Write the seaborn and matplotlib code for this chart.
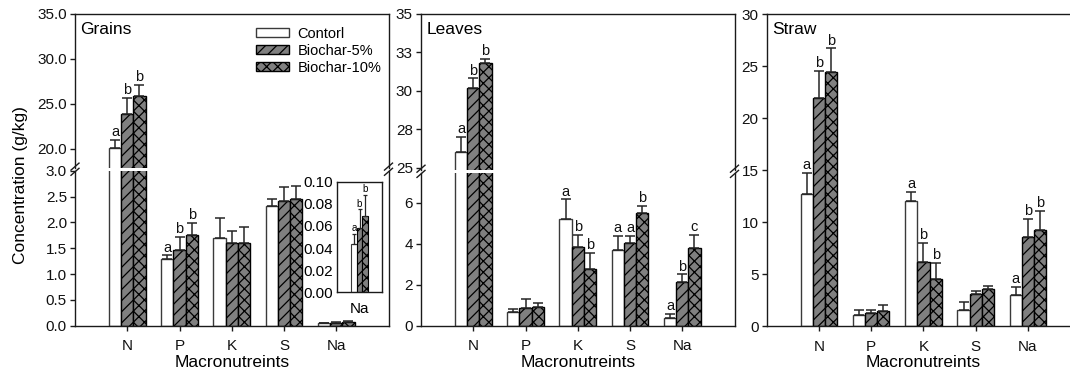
import numpy as np
import pandas as pd
import matplotlib
matplotlib.use("Agg")
import matplotlib.pyplot as plt
import matplotlib.patches as mpatches
from matplotlib.lines import Line2D
import seaborn as sns

plt.rcParams['font.family'] = ['Liberation Sans', 'DejaVu Sans']
plt.rcParams['hatch.linewidth'] = 0.9

# ---------------- data ----------------
nutrients = ['N', 'P', 'K', 'S', 'Na']
treatments = ['Contorl', 'Biochar-5%', 'Biochar-10%']

grains_ctrl = [20.1, 1.29, 1.69, 2.32, 0.044]
grains_b5 = [23.9, 1.47, 1.60, 2.42, 0.058]
grains_b10 = [25.9, 1.75, 1.60, 2.46, 0.069]
grains_ctrl_err = [0.9, 0.07, 0.39, 0.13, 0.009]
grains_b5_err = [1.8, 0.25, 0.24, 0.26, 0.017]
grains_b10_err = [1.2, 0.24, 0.31, 0.24, 0.019]
grains_ctrl_let = ['a', 'a', '', '', 'a']
grains_b5_let = ['b', 'b', '', '', 'b']
grains_b10_let = ['b', 'b', '', '', 'b']

leaves_ctrl = [26.0, 0.68, 5.19, 3.69, 0.36]
leaves_b5 = [30.2, 0.85, 3.85, 4.02, 2.12]
leaves_b10 = [31.8, 0.93, 2.75, 5.51, 3.80]
leaves_ctrl_err = [1.0, 0.12, 0.97, 0.70, 0.20]
leaves_b5_err = [0.6, 0.44, 0.57, 0.37, 0.38]
leaves_b10_err = [0.28, 0.16, 0.81, 0.33, 0.62]
leaves_ctrl_let = ['a', '', 'a', 'a', 'a']
leaves_b5_let = ['b', '', 'b', 'a', 'b']
leaves_b10_let = ['b', '', 'b', 'b', 'c']

straw_ctrl = [12.67, 1.12, 12.03, 1.60, 2.98]
straw_b5 = [21.9, 1.28, 6.19, 3.05, 8.57]
straw_b10 = [24.4, 1.50, 4.56, 3.53, 9.20]
straw_ctrl_err = [2.03, 0.48, 0.90, 0.74, 0.81]
straw_b5_err = [2.6, 0.26, 1.83, 0.32, 1.70]
straw_b10_err = [2.3, 0.52, 1.54, 0.32, 1.84]
straw_ctrl_let = ['a', '', 'a', '', 'a']
straw_b5_let = ['b', '', 'b', '', 'b']
straw_b10_let = ['b', '', 'b', '', 'b']

# ---------------- style ----------------
W, H = 1070, 378
fills = ['white', '#808080', '#808080']
edges = ['#3a3a3a', 'black', 'black']
hatches = ['', '///', 'xxx']
TICK_FS = 11
LAB_FS = 12.5
LET_FS = 10.5


def frame(vals):
    return pd.DataFrame({
        'Nutrient': nutrients * 3,
        'Treatment': sum([[t] * len(nutrients) for t in treatments], []),
        'Value': vals[0] + vals[1] + vals[2],
    })


def draw_bars(ax, df, errs, lets, let_fs=LET_FS, capsize=3.5, lw=1.0):
    sns.barplot(data=df, x='Nutrient', y='Value', hue='Treatment',
                hue_order=treatments, palette=fills, saturation=1,
                width=0.7, errorbar=None, legend=False, ax=ax,
                edgecolor='black', linewidth=lw, zorder=2)
    for cont, hatch, ec, err, let in zip(ax.containers, hatches, edges, errs, lets):
        xs, ys = [], []
        for bar in cont:
            bar.set_hatch(hatch)
            bar.set_edgecolor(ec)
            xs.append(bar.get_x() + bar.get_width() / 2)
            ys.append(bar.get_height())
        ax.errorbar(xs, ys, yerr=[np.zeros(len(err)), err], fmt='none',
                    ecolor='#262626', elinewidth=1.1, capsize=capsize,
                    capthick=1.1, zorder=3)
        for x, y, e, t in zip(xs, ys, err, let):
            if t:
                ax.annotate(t, (x, y + e), xytext=(0, 0.6),
                            textcoords='offset points', ha='center',
                            va='bottom', fontsize=let_fs, color='#111111')
    ax.set_xlabel('')
    ax.set_ylabel('')


def style(ax):
    for s in ax.spines.values():
        s.set_color('#1a1a1a')
        s.set_linewidth(1.0)
    ax.tick_params(axis='both', direction='out', length=3.8, width=1.0,
                   colors='#1a1a1a', labelsize=TICK_FS, labelcolor='#111111')
    ax.tick_params(axis='y', pad=2)
    ax.tick_params(axis='x', pad=6)
    ax.set_xlim(-1, 5)


def rect(left, top, right, bottom):
    return [left / W, 1 - bottom / H, (right - left) / W, (bottom - top) / H]


def brk(x_px, y_px, fig):
    for dy in (-2.6, 2.6):
        yc = y_px + dy
        fig.add_artist(Line2D([(x_px - 4) / W, (x_px + 4) / W],
                              [1 - (yc + 3.5) / H, 1 - (yc - 3.5) / H],
                              transform=fig.transFigure, color='#1a1a1a',
                              lw=1.0, clip_on=False, zorder=10))


def title(ax, txt):
    ax.annotate(txt, xy=(0, 1), xycoords='axes fraction', xytext=(5.5, -15.5),
                textcoords='offset pixels', ha='left', va='center',
                fontsize=LAB_FS)


fig = plt.figure(figsize=(W / 100, H / 100), dpi=100)

# ---------- Panel 1: Grains (broken axis) ----------
g_vals = [grains_ctrl, grains_b5, grains_b10]
g_errs = [grains_ctrl_err, grains_b5_err, grains_b10_err]
g_lets = [grains_ctrl_let, grains_b5_let, grains_b10_let]
g_lets_main = [[l if n != 'Na' else '' for l, n in zip(L, nutrients)] for L in g_lets]
df_g = frame(g_vals)

a1t = fig.add_axes(rect(75, 14, 388.5, 167.7))
a1b = fig.add_axes(rect(75, 170.7, 388.5, 325.7))
for a in (a1t, a1b):
    draw_bars(a, df_g, g_errs, g_lets_main)
    style(a)
a1t.set_ylim(17.9, 35)
a1t.set_yticks([20, 25, 30, 35])
a1t.set_yticklabels(['20.0', '25.0', '30.0', '35.0'])
a1t.spines['bottom'].set_visible(False)
a1t.tick_params(axis='x', bottom=False, labelbottom=False)
a1b.set_ylim(0, 3.0)
a1b.set_yticks([0, 0.5, 1.0, 1.5, 2.0, 2.5, 3.0])
a1b.set_yticklabels(['0.0', '0.5', '1.0', '1.5', '2.0', '2.5', '3.0'])
a1b.spines['top'].set_visible(False)
a1b.set_xlabel('Macronutreints', fontsize=LAB_FS, labelpad=1)
title(a1t, 'Grains')

handles = [mpatches.Patch(facecolor=f, edgecolor=e, hatch=h, lw=1.0)
           for f, e, h in zip(fills, edges, hatches)]
a1t.legend(handles, treatments, loc='upper left',
           bbox_to_anchor=(256 / W, 1 - 27 / H), bbox_transform=fig.transFigure,
           frameon=False, fontsize=10.5, handlelength=2.25, handleheight=0.6,
           handletextpad=0.6, labelspacing=0.2, borderpad=0, borderaxespad=0)

# inset for Na
ins = fig.add_axes(rect(337.3, 181.7, 381.7, 292.3))
df_na = pd.DataFrame({'Nutrient': ['Na'] * 3, 'Treatment': treatments,
                      'Value': [grains_ctrl[4], grains_b5[4], grains_b10[4]]})
sns.barplot(data=df_na, x='Nutrient', y='Value', hue='Treatment',
            hue_order=treatments, palette=fills, saturation=1, width=0.7,
            errorbar=None, legend=False, ax=ins, edgecolor='black',
            linewidth=0.8, zorder=2)
for cont, hatch, ec, e_list, l_list in zip(ins.containers, hatches, edges, g_errs, g_lets):
    for bar in cont:
        bar.set_hatch(hatch)
        bar.set_edgecolor(ec)
        x = bar.get_x() + bar.get_width() / 2
        y = bar.get_height()
        ins.errorbar([x], [y], yerr=[[0], [e_list[4]]], fmt='none',
                     ecolor='#262626', elinewidth=0.9, capsize=1.6,
                     capthick=0.9, zorder=3)
        ins.annotate(l_list[4], (x, y + e_list[4]), xytext=(0, 0.5),
                     textcoords='offset points', ha='center', va='bottom',
                     fontsize=7)
ins.set_xlim(-0.93, 0.93)
ins.set_ylim(0, 0.10)
ins.set_yticks([0, 0.02, 0.04, 0.06, 0.08, 0.10])
ins.set_yticklabels(['0.00', '0.02', '0.04', '0.06', '0.08', '0.10'])
for s in ins.spines.values():
    s.set_color('#1a1a1a')
    s.set_linewidth(1.0)
ins.tick_params(axis='y', length=0, pad=3, labelsize=TICK_FS)
ins.tick_params(axis='x', length=0, pad=7, labelsize=TICK_FS)
ins.set_xlabel('')
ins.set_ylabel('')

# ---------- Panel 2: Leaves (broken axis) ----------
l_vals = [leaves_ctrl, leaves_b5, leaves_b10]
l_errs = [leaves_ctrl_err, leaves_b5_err, leaves_b10_err]
l_lets = [leaves_ctrl_let, leaves_b5_let, leaves_b10_let]
df_l = frame(l_vals)
a2t = fig.add_axes(rect(421, 14, 734.5, 170))
a2b = fig.add_axes(rect(421, 172.7, 734.5, 325.7))
for a in (a2t, a2b):
    draw_bars(a, df_l, l_errs, l_lets)
    style(a)
a2t.set_ylim(24.84, 35)
a2t.set_yticks([25, 27.5, 30, 32.5, 35])
a2t.set_yticklabels(['25', '28', '30', '33', '35'])
a2t.spines['bottom'].set_visible(False)
a2t.tick_params(axis='x', bottom=False, labelbottom=False)
a2b.set_ylim(0, 7.46)
a2b.set_yticks([0, 2, 4, 6])
a2b.spines['top'].set_visible(False)
a2b.set_xlabel('Macronutreints', fontsize=LAB_FS, labelpad=1)
title(a2t, 'Leaves')

# ---------- Panel 3: Straw ----------
s_vals = [straw_ctrl, straw_b5, straw_b10]
s_errs = [straw_ctrl_err, straw_b5_err, straw_b10_err]
s_lets = [straw_ctrl_let, straw_b5_let, straw_b10_let]
df_s = frame(s_vals)
a3 = fig.add_axes(rect(766.7, 14, 1080.2, 326.2))
draw_bars(a3, df_s, s_errs, s_lets)
style(a3)
a3.set_ylim(0, 30)
a3.set_yticks([0, 5, 10, 15, 20, 25, 30])
a3.set_xlabel('Macronutreints', fontsize=LAB_FS, labelpad=1)
title(a3, 'Straw')

# break marks
brk(75, 169.2, fig)
brk(388.5, 169.2, fig)
brk(421, 171.3, fig)
brk(734.5, 171.3, fig)

fig.text(21 / W, 1 - 185 / H, 'Concentration (g/kg)', rotation=90,
         ha='center', va='center', fontsize=LAB_FS)

fig.savefig('out.png', dpi=100)
